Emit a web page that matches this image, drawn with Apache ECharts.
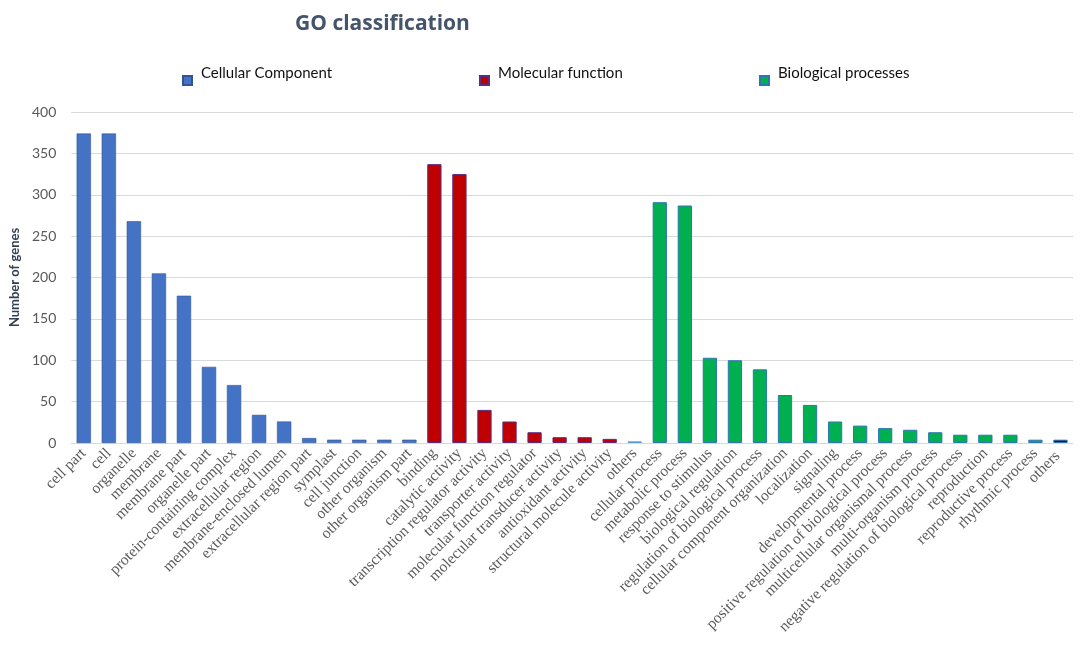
<!DOCTYPE html>
<html>
<head>
<meta charset="utf-8">
<title>GO classification</title>
<script src="https://cdn.jsdelivr.net/npm/echarts@6/dist/echarts.min.js"></script>
<style>
  html, body { margin: 0; padding: 0; background: #fff; }
  #chart { width: 1084px; height: 650px; }
</style>
</head>
<body>
<div id="chart"></div>
<script>
// categories per GO group
const ccNames = ["cell part", "cell", "organelle", "membrane", "membrane part", "organelle part",
    "protein-containing complex", "extracellular region", "membrane-enclosed lumen",
    "extracellular region part", "symplast", "cell junction", "other organism", "other organism part"]
const ccValues = [374, 374, 268, 205, 178, 92, 70, 34, 26, 6, 4, 4, 4, 4]

const mfNames = ["binding", "catalytic activity", "transcription regulator activity", "transporter activity",
    "molecular function regulator", "molecular transducer activity", "antioxidant activity",
    "structural molecule activity", "others"]
const mfValues = [337, 325, 40, 26, 13, 7, 7, 5, 2]

const bpNames = ["cellular process", "metabolic process", "response to stimulus", "biological regulation",
    "regulation of biological process", "cellular component organization", "localization", "signaling",
    "developmental process", "positive regulation of biological process", "multicellular organismal process",
    "multi-organism process", "negative regulation of biological process", "reproduction",
    "reproductive process", "rhythmic process", "others "]
const bpValues = [291, 287, 103, 100, 89, 58, 46, 26, 21, 18, 16, 13, 10, 10, 10, 4, 4]

const yTicks = [0, 50, 100, 150, 200, 250, 300, 350, 400]

const categories = ccNames.concat(mfNames, bpNames)

// build a full-length column for each group (null outside the group)
function column(offset, values, lastStyle) {
    let out = categories.map(() => null)
    values.forEach((v, i) => { out[offset + i] = v })
    if (lastStyle) {
        let idx = offset + values.length - 1
        out[idx] = { value: values[values.length - 1], itemStyle: lastStyle }
    }
    return out
}

const chart = echarts.init(document.getElementById('chart'))

// legend: text sits a bit higher than the little square, like the original
const legendBase = {
    icon: 'rect',
    itemWidth: 9,
    itemHeight: 9,
    top: 61,
    formatter: '{t|{name}}',
    textStyle: {
        rich: {
            t: { fontFamily: 'Lato', fontSize: 15, color: '#111', padding: [0, 0, 14, 4] }
        }
    }
}

option = {
    backgroundColor: '#fff',
    title: {
        text: 'GO classification',
        left: 290,
        top: 9,
        textStyle: { fontFamily: 'Open Sans', fontSize: 21, fontWeight: 'bold', color: '#44546a' }
    },
    legend: [
        Object.assign({ data: ['Cellular Component'], left: 177 }, legendBase),
        Object.assign({ data: ['Molecular function'], left: 474 }, legendBase),
        Object.assign({ data: ['Biological processes'], left: 754 }, legendBase)
    ],
    grid: { left: 70, right: 11, top: 112, bottom: 207 },
    xAxis: {
        type: 'category',
        data: categories,
        axisLine: { lineStyle: { color: '#d9d9d9' } },
        axisTick: { show: false },
        axisLabel: {
            rotate: 45,
            interval: 0,
            margin: 8,
            fontFamily: 'Liberation Serif',
            fontSize: 15.5,
            color: '#595959'
        }
    },
    yAxis: {
        type: 'value',
        min: 0,
        max: yTicks[yTicks.length - 1],
        interval: 50,
        name: 'Number of genes',
        nameLocation: 'middle',
        nameGap: 45,
        nameTextStyle: { fontFamily: 'Lato', fontSize: 13, fontWeight: 'bold', color: '#333f50' },
        axisLine: { show: false },
        axisTick: { show: false },
        axisLabel: { fontFamily: 'Lato', fontSize: 14, color: '#595959', margin: 15 },
        splitLine: { lineStyle: { color: '#d9d9d9', width: 1 } }
    },
    series: [
        {
            name: 'Cellular Component',
            type: 'bar',
            stack: 'go',
            barWidth: '57%',
            itemStyle: { color: '#4472c4', borderColor: '#2f5597', borderWidth: 0.6 },
            data: column(0, ccValues)
        },
        {
            name: 'Molecular function',
            type: 'bar',
            stack: 'go',
            barWidth: '57%',
            itemStyle: { color: '#c00000', borderColor: '#5a2d81', borderWidth: 1 },
            data: column(ccNames.length, mfValues, { color: '#ed7d31', borderColor: '#5b9bd5' })
        },
        {
            name: 'Biological processes',
            type: 'bar',
            stack: 'go',
            barWidth: '57%',
            itemStyle: { color: '#00b050', borderColor: '#2e75b6', borderWidth: 1 },
            data: column(ccNames.length + mfNames.length, bpValues, { color: '#0d0d26', borderColor: '#2e75b6' })
        }
    ]
}
chart.setOption(option)
</script>
</body>
</html>
